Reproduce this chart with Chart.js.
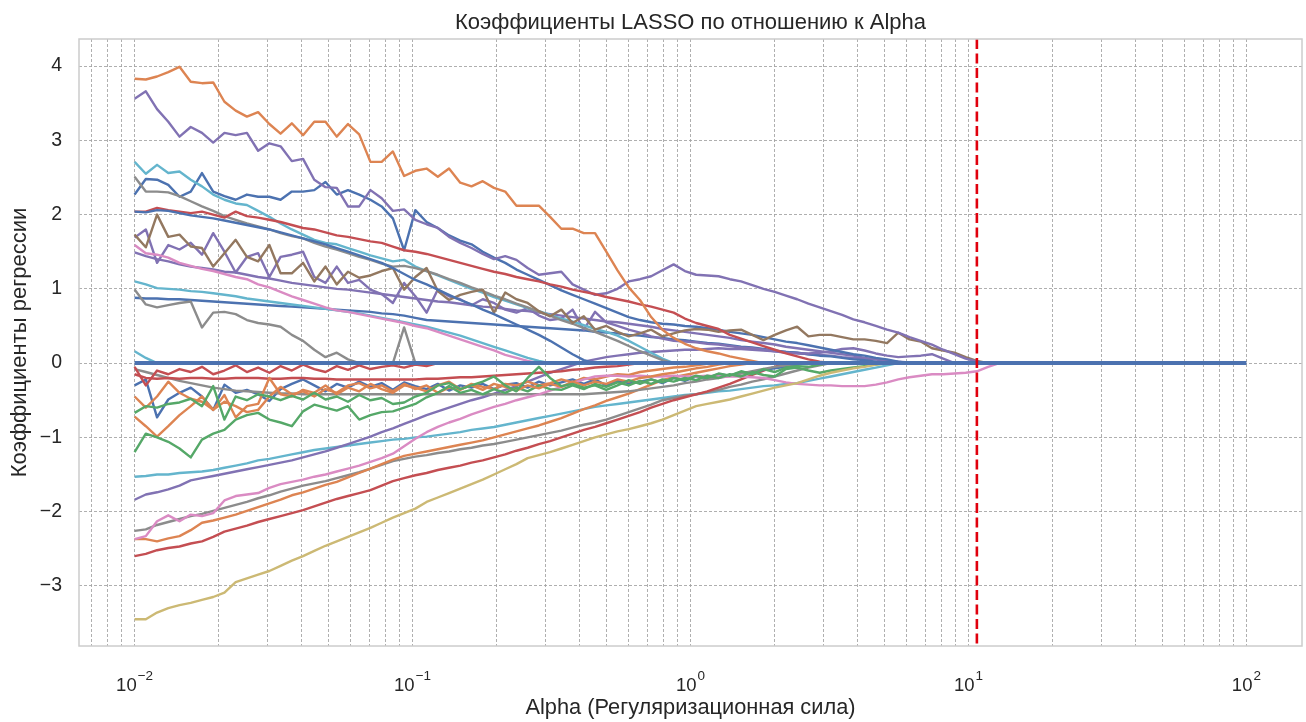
<!DOCTYPE html>
<html>
<head>
<meta charset="utf-8">
<script src="https://cdn.jsdelivr.net/npm/chart.js@4.4.1/dist/chart.umd.min.js"></script>
<style>
  html, body { margin: 0; padding: 0; background: #ffffff; }
  #wrap { width: 1306px; height: 722px; }
</style>
</head>
<body>
<div id="wrap"><canvas id="c" width="1306" height="722"></canvas></div>
<script>
// ---- alpha grid (x values) ----
const alphas = [0.01,0.010975,0.012045,0.013219,0.014508,0.015923,0.017475,0.019179,0.021049,0.023101,
0.025354,0.027826,0.030539,0.033516,0.036784,0.04037,0.044306,0.048626,0.053367,0.05857,
0.064281,0.070548,0.077426,0.084975,0.09326,0.10235,0.11233,0.12328,0.1353,0.14849,
0.16297,0.17886,0.1963,0.21544,0.23645,0.2595,0.2848,0.31257,0.34305,0.37649,
0.4132,0.45349,0.4977,0.54623,0.59948,0.65793,0.72208,0.79248,0.86975,0.95455,
1.0476,1.1498,1.2619,1.3849,1.5199,1.6681,1.8307,2.0092,2.2051,2.4201,
2.6561,2.9151,3.1993,3.5112,3.8535,4.2292,4.6416,5.0941,5.5908,6.1359,
6.7342,7.3907,8.1113,8.9022,9.7701,10.723,11.768,12.915];

// coefficients that stay at zero over the whole alpha range
const zeroPathAlphas = [0.01, 100];
const zeroPathValues = [0, 0];

const bestAlpha = 10.723;

// ---- coefficient paths (one value per alpha, until the coefficient reaches 0) ----
const coefOrange1 = [3.83,3.82,3.86,3.92,3.99,3.79,3.77,3.78,3.52,3.40,3.32,3.38,3.22,3.09,3.23,3.07,3.25,3.25,3.05,3.22,
3.08,2.71,2.71,2.85,2.52,2.59,2.62,2.51,2.62,2.43,2.38,2.45,2.36,2.31,2.12,2.12,2.12,1.97,1.81,1.81,
1.75,1.75,1.50,1.25,1.02,0.85,0.62,0.45,0.34,0.26,0.20,0.16,0.13,0.09,0.06,0.03,0];
const coefPurple1 = [3.56,3.66,3.42,3.25,3.05,3.18,3.10,2.97,3.10,3.07,3.10,2.86,2.96,2.92,2.72,2.75,2.47,2.37,2.36,2.11,
2.11,2.33,2.22,2.05,2.07,1.93,1.87,1.82,1.70,1.62,1.55,1.47,1.40,1.44,1.39,1.28,1.19,1.21,1.23,1.06,
0.99,0.92,0.94,1.00,1.10,1.13,1.17,1.25,1.33,1.24,1.19,1.18,1.17,1.13,1.10,1.05,1.00,0.96,0.91,0.86,
0.80,0.75,0.70,0.65,0.59,0.55,0.50,0.45,0.41,0.35,0.30,0.25,0.18,0.12,0.06,0.02,0];
const coefCyan1 = [2.71,2.55,2.67,2.56,2.58,2.47,2.38,2.27,2.20,2.15,2.13,2.05,1.97,1.88,1.80,1.73,1.66,1.62,1.60,1.55,
1.50,1.45,1.41,1.37,1.39,1.30,1.24,1.18,1.12,1.06,1.00,0.95,0.89,0.84,0.79,0.74,0.70,0.65,0.60,0.56,
0.51,0.46,0.42,0.37,0.30,0.22,0.14,0.06,0];
const coefBlue1 = [2.27,2.48,2.47,2.40,2.24,2.31,2.56,2.31,2.25,2.20,2.27,2.24,2.24,2.20,2.31,2.31,2.33,2.44,2.27,2.33,
2.27,2.20,2.11,1.95,1.52,2.06,1.90,1.82,1.72,1.65,1.60,1.50,1.42,1.35,1.26,1.19,1.12,1.05,0.98,0.92,
0.86,0.80,0.74,0.68,0.62,0.58,0.55,0.53,0.52,0.50,0.49,0.47,0.45,0.42,0.40,0.38,0.35,0.32,0.29,0.27,
0.24,0.21,0.18,0.15,0.12,0.10,0.07,0.05,0.02,0];
const coefGray1 = [2.51,2.31,2.31,2.30,2.25,2.18,2.11,2.05,1.98,1.93,1.88,1.84,1.80,1.75,1.71,1.68,1.62,1.57,1.53,1.48,
1.43,1.39,1.34,1.30,1.31,1.28,1.24,1.19,1.13,1.08,1.02,0.97,0.91,0.86,0.80,0.75,0.69,0.64,0.58,0.53,
0.47,0.42,0.36,0.30,0.23,0.16,0.10,0.04,0];
const coefRed1 = [2.04,2.04,2.09,2.06,2.04,2.02,2.04,2.00,1.96,2.04,1.98,1.96,1.93,1.90,1.86,1.82,1.80,1.76,1.72,1.70,
1.67,1.64,1.62,1.57,1.52,1.50,1.47,1.43,1.39,1.35,1.31,1.27,1.23,1.20,1.16,1.13,1.10,1.06,1.03,0.99,
0.96,0.93,0.89,0.86,0.83,0.79,0.76,0.72,0.68,0.60,0.54,0.50,0.46,0.38,0.33,0.28,0.23,0.18,0.13,0.09,
0.05,0.02,0];
const coefBlue2 = [2.04,2.03,2.06,2.05,2.02,1.99,1.97,1.95,1.92,1.89,1.86,1.83,1.80,1.76,1.72,1.68,1.64,1.60,1.55,1.50,
1.45,1.40,1.35,1.28,1.20,1.12,1.06,0.99,0.92,0.85,0.79,0.72,0.66,0.59,0.52,0.45,0.38,0.30,0.21,0.12,
0.04,0];
const coefBrown1 = [1.73,1.56,2.00,1.70,1.73,1.57,1.55,1.30,1.48,1.66,1.43,1.37,1.59,1.21,1.21,1.35,1.10,1.30,1.06,1.23,
1.15,1.18,1.24,1.28,0.99,1.16,1.28,0.97,0.85,0.92,0.96,0.99,0.68,0.95,0.86,0.81,0.70,0.63,0.72,0.54,
0.63,0.45,0.50,0.42,0.36,0.40,0.45,0.36,0.40,0.44,0.46,0.45,0.42,0.44,0.45,0.38,0.31,0.38,0.44,0.49,
0.36,0.38,0.38,0.35,0.32,0.32,0.30,0.27,0.41,0.32,0.29,0.20,0.17,0.14,0.08,0.03,0];
const coefPurple2 = [1.69,1.80,1.35,1.59,1.53,1.62,1.46,1.75,1.50,1.22,1.43,1.48,1.16,1.43,1.46,1.50,1.16,1.08,1.30,1.08,
1.12,0.99,0.93,0.81,1.08,0.90,0.68,0.99,0.90,0.86,0.78,0.86,0.81,0.72,0.68,0.74,0.64,0.58,0.60,0.72,
0.45,0.69,0.55,0.50,0.45,0.41,0.36,0.33,0.30,0.29,0.28,0.26,0.25,0.23,0.21,0.20,0.18,0.16,0.14,0.13,
0.13,0.14,0.16,0.19,0.20,0.17,0.13,0.10,0.08,0.09,0.10,0.12,0.06,0];
const coefPink1 = [1.59,1.48,1.46,1.42,1.35,1.31,1.27,1.24,1.20,1.16,1.13,1.06,1.02,0.96,0.90,0.85,0.80,0.75,0.71,0.69,
0.66,0.63,0.60,0.57,0.54,0.50,0.47,0.42,0.37,0.32,0.27,0.22,0.17,0.11,0.07,0.03,0];
const coefPurple3 = [1.49,1.44,1.40,1.37,1.33,1.30,1.28,1.26,1.23,1.22,1.19,1.16,1.14,1.11,1.08,1.06,1.04,1.02,1.00,0.99,
0.97,0.95,0.93,0.91,0.89,0.87,0.85,0.83,0.82,0.80,0.78,0.76,0.75,0.73,0.71,0.70,0.68,0.66,0.64,0.62,
0.60,0.58,0.56,0.55,0.53,0.51,0.49,0.46,0.44,0.42,0.40,0.38,0.36,0.34,0.31,0.29,0.27,0.25,0.22,0.20,
0.18,0.16,0.14,0.12,0.10,0.07,0.05,0.02,0];
const coefCyan2 = [1.10,1.06,1.01,1.00,0.99,0.97,0.96,0.94,0.92,0.90,0.87,0.85,0.83,0.81,0.79,0.77,0.75,0.73,0.71,0.69,
0.67,0.64,0.61,0.58,0.55,0.52,0.49,0.45,0.41,0.37,0.32,0.27,0.22,0.17,0.12,0.07,0.03,0];
const coefBlue3 = [0.88,0.87,0.87,0.86,0.86,0.85,0.84,0.83,0.82,0.81,0.80,0.79,0.78,0.77,0.76,0.75,0.74,0.73,0.72,0.71,
0.70,0.69,0.67,0.66,0.64,0.61,0.58,0.57,0.56,0.55,0.54,0.53,0.52,0.51,0.50,0.49,0.48,0.47,0.46,0.45,
0.44,0.42,0.41,0.40,0.38,0.37,0.35,0.34,0.32,0.31,0.29,0.27,0.26,0.24,0.22,0.21,0.19,0.17,0.15,0.14,
0.12,0.10,0.09,0.07,0.05,0.04,0.02,0.01,0];
const coefGray2 = [0.99,0.79,0.75,0.78,0.81,0.83,0.48,0.68,0.69,0.66,0.58,0.54,0.52,0.49,0.38,0.30,0.18,0.08,0.14,0.05,
0,0,0,0,0.48,0];
const coefCyan3 = [0.16,0.07,0];
const coefRed2 = [-0.15,-0.20,-0.21,-0.20,-0.21,-0.20,-0.20,-0.21,-0.21,-0.20,-0.20,-0.20,-0.21,-0.21,-0.20,-0.20,-0.21,-0.21,-0.22,-0.22,
-0.22,-0.22,-0.22,-0.22,-0.22,-0.22,-0.21,-0.21,-0.20,-0.19,-0.19,-0.18,-0.17,-0.16,-0.15,-0.14,-0.13,-0.12,-0.11,-0.09,
-0.08,-0.06,-0.05,-0.04,-0.02,0];
const coefRed3 = [-0.05,-0.30,-0.10,-0.15,-0.08,-0.12,-0.05,-0.15,-0.10,-0.03,-0.12,-0.06,-0.13,-0.04,-0.10,-0.02,-0.08,-0.12,-0.04,-0.09,
-0.03,-0.08,-0.05,-0.03,-0.06,-0.02,-0.04,0];
const coefBlue5 = [-0.30,-0.22,-0.73,-0.49,-0.40,-0.33,-0.45,-0.63,-0.29,-0.40,-0.36,-0.42,-0.51,-0.35,-0.28,-0.22,-0.30,-0.38,-0.28,-0.33,
-0.25,-0.32,-0.27,-0.36,-0.26,-0.31,-0.35,-0.28,-0.37,-0.30,-0.33,-0.28,-0.35,-0.29,-0.27,-0.33,-0.25,-0.30,-0.26,-0.22,
-0.28,-0.22,-0.30,-0.24,-0.27,-0.25,-0.22,-0.27,-0.20,-0.24,-0.18,-0.20,-0.15,-0.17,-0.12,-0.13,-0.09,-0.07,-0.05,-0.02,0];
const coefOrange2 = [-0.45,-0.60,-0.45,-0.25,-0.40,-0.48,-0.52,-0.63,-0.43,-0.73,-0.58,-0.55,-0.20,-0.42,-0.45,-0.36,-0.40,-0.30,-0.42,-0.33,
-0.38,-0.28,-0.35,-0.40,-0.30,-0.33,-0.38,-0.30,-0.25,-0.35,-0.30,-0.36,-0.28,-0.32,-0.37,-0.30,-0.34,-0.28,-0.32,-0.25,
-0.30,-0.25,-0.28,-0.22,-0.25,-0.20,-0.18,-0.15,-0.13,-0.10,-0.07,-0.05,-0.02,0];
const coefOrange3 = [-0.72,-0.85,-0.99,-0.85,-0.70,-0.58,-0.45,-0.63,-0.52,-0.58,-0.66,-0.63,-0.45,-0.32,-0.42,-0.38,-0.45,-0.35,-0.40,-0.30,
-0.27,-0.34,-0.30,-0.38,-0.28,-0.35,-0.30,-0.40,-0.33,-0.36,-0.28,-0.32,-0.35,-0.28,-0.30,-0.25,-0.30,-0.27,-0.22,-0.26,
-0.20,-0.22,-0.18,-0.15,-0.16,-0.12,-0.10,-0.08,-0.06,-0.05,-0.03,-0.01,0];
const coefGray3 = [-0.08,-0.12,-0.16,-0.20,-0.24,-0.27,-0.30,-0.33,-0.35,-0.37,-0.38,-0.39,-0.40,-0.41,-0.41,-0.42,-0.42,-0.42,-0.42,-0.42,
-0.42,-0.42,-0.42,-0.42,-0.42,-0.42,-0.42,-0.42,-0.42,-0.42,-0.42,-0.42,-0.42,-0.42,-0.42,-0.42,-0.42,-0.42,-0.42,-0.42,
-0.42,-0.41,-0.40,-0.39,-0.38,-0.36,-0.34,-0.32,-0.30,-0.27,-0.25,-0.22,-0.20,-0.17,-0.14,-0.11,-0.08,-0.05,-0.03,-0.01,0];
const coefGreen1 = [-0.67,-0.58,-0.60,-0.55,-0.53,-0.48,-0.58,-0.31,-0.76,-0.45,-0.50,-0.42,-0.45,-0.50,-0.44,-0.49,-0.40,-0.49,-0.45,-0.52,
-0.43,-0.50,-0.47,-0.55,-0.53,-0.45,-0.40,-0.30,-0.27,-0.35,-0.30,-0.25,-0.18,-0.30,-0.38,-0.20,-0.05,-0.20,-0.31,-0.28,
-0.33,-0.30,-0.36,-0.30,-0.23,-0.28,-0.22,-0.26,-0.20,-0.23,-0.17,-0.20,-0.14,-0.17,-0.11,-0.15,-0.08,-0.12,-0.06,-0.04,
-0.05,-0.02,0];
const coefGreen2 = [-1.20,-0.95,-1.00,-1.06,-1.15,-1.27,-1.03,-0.95,-0.90,-0.76,-0.70,-0.67,-0.76,-0.80,-0.85,-0.65,-0.56,-0.60,-0.64,-0.58,
-0.76,-0.70,-0.66,-0.65,-0.60,-0.55,-0.46,-0.40,-0.31,-0.40,-0.36,-0.42,-0.35,-0.40,-0.33,-0.38,-0.30,-0.35,-0.36,-0.30,
-0.35,-0.28,-0.32,-0.26,-0.30,-0.24,-0.28,-0.22,-0.25,-0.20,-0.23,-0.17,-0.20,-0.15,-0.18,-0.12,-0.16,-0.18,-0.08,-0.06,
-0.10,-0.13,-0.10,-0.08,-0.06,-0.04,-0.02,0];
const coefCyan4 = [-1.53,-1.52,-1.50,-1.50,-1.48,-1.47,-1.46,-1.44,-1.41,-1.38,-1.35,-1.31,-1.29,-1.26,-1.23,-1.20,-1.17,-1.15,-1.13,-1.11,
-1.09,-1.07,-1.05,-1.03,-1.02,-1.00,-0.99,-0.97,-0.95,-0.93,-0.90,-0.88,-0.86,-0.83,-0.80,-0.77,-0.74,-0.71,-0.68,-0.65,
-0.62,-0.59,-0.57,-0.55,-0.53,-0.51,-0.49,-0.47,-0.45,-0.43,-0.42,-0.40,-0.38,-0.37,-0.35,-0.33,-0.31,-0.30,-0.28,-0.27,
-0.24,-0.21,-0.18,-0.15,-0.12,-0.09,-0.06,-0.03,0];
const coefPurple4 = [-1.84,-1.77,-1.74,-1.70,-1.65,-1.58,-1.55,-1.52,-1.49,-1.46,-1.43,-1.40,-1.37,-1.34,-1.31,-1.27,-1.23,-1.19,-1.14,-1.09,
-1.04,-0.99,-0.93,-0.88,-0.82,-0.76,-0.70,-0.65,-0.60,-0.55,-0.50,-0.46,-0.41,-0.36,-0.31,-0.25,-0.19,-0.13,-0.08,-0.03,
0.02,0.05,0.08,0.10,0.12,0.14,0.15,0.16,0.17,0.18,0.18,0.19,0.20,0.19,0.19,0.18,0.17,0.16,0.15,0.14,
0.12,0.11,0.10,0.08,0.07,0.06,0.05,0.03,0.02,0.01,0];
const coefGray4 = [-2.26,-2.24,-2.18,-2.14,-2.10,-2.06,-2.03,-1.99,-1.95,-1.91,-1.87,-1.82,-1.78,-1.73,-1.69,-1.65,-1.62,-1.59,-1.55,-1.51,
-1.47,-1.42,-1.37,-1.32,-1.29,-1.26,-1.24,-1.21,-1.19,-1.16,-1.14,-1.11,-1.09,-1.06,-1.03,-1.00,-0.97,-0.94,-0.91,-0.87,
-0.83,-0.80,-0.76,-0.71,-0.66,-0.61,-0.56,-0.50,-0.47,-0.44,-0.42,-0.39,-0.36,-0.32,-0.29,-0.25,-0.22,-0.18,-0.14,-0.10,
-0.06,-0.03,0];
const coefOrange4 = [-2.37,-2.37,-2.40,-2.36,-2.33,-2.25,-2.15,-2.12,-2.08,-2.04,-1.99,-1.94,-1.89,-1.84,-1.78,-1.74,-1.69,-1.64,-1.60,-1.54,
-1.48,-1.42,-1.36,-1.30,-1.25,-1.22,-1.19,-1.16,-1.13,-1.10,-1.07,-1.04,-1.00,-0.96,-0.92,-0.88,-0.84,-0.79,-0.74,-0.68,
-0.62,-0.57,-0.51,-0.46,-0.41,-0.35,-0.29,-0.23,-0.19,-0.16,-0.13,-0.10,-0.07,-0.04,-0.02,0];
const coefPink2 = [-2.37,-2.33,-2.13,-2.05,-2.13,-2.04,-2.06,-2.02,-1.85,-1.79,-1.77,-1.75,-1.68,-1.63,-1.60,-1.57,-1.53,-1.50,-1.46,-1.42,
-1.38,-1.33,-1.28,-1.22,-1.12,-1.02,-0.93,-0.86,-0.80,-0.75,-0.69,-0.64,-0.59,-0.55,-0.50,-0.46,-0.42,-0.37,-0.32,-0.27,
-0.22,-0.18,-0.17,-0.17,-0.18,-0.17,-0.18,-0.18,-0.17,-0.18,-0.18,-0.17,-0.18,-0.18,-0.18,-0.19,-0.20,-0.23,-0.26,-0.28,
-0.29,-0.30,-0.30,-0.31,-0.31,-0.31,-0.29,-0.26,-0.22,-0.19,-0.17,-0.15,-0.15,-0.14,-0.13,-0.11,-0.05,0];
const coefRed4 = [-2.60,-2.57,-2.52,-2.49,-2.47,-2.43,-2.40,-2.34,-2.27,-2.23,-2.19,-2.14,-2.10,-2.06,-2.02,-1.98,-1.93,-1.88,-1.83,-1.79,
-1.75,-1.71,-1.65,-1.59,-1.55,-1.51,-1.48,-1.44,-1.41,-1.38,-1.34,-1.31,-1.27,-1.23,-1.18,-1.14,-1.09,-1.05,-1.00,-0.95,
-0.90,-0.86,-0.81,-0.76,-0.71,-0.66,-0.60,-0.55,-0.50,-0.46,-0.42,-0.38,-0.33,-0.28,-0.22,-0.16,-0.10,-0.05,0];
const coefOlive = [-3.45,-3.45,-3.36,-3.30,-3.26,-3.23,-3.19,-3.15,-3.09,-2.95,-2.90,-2.85,-2.80,-2.73,-2.66,-2.60,-2.53,-2.46,-2.40,-2.34,
-2.28,-2.22,-2.15,-2.08,-2.02,-1.96,-1.87,-1.81,-1.75,-1.69,-1.63,-1.57,-1.50,-1.43,-1.36,-1.28,-1.24,-1.20,-1.15,-1.10,
-1.05,-1.00,-0.96,-0.92,-0.89,-0.85,-0.81,-0.76,-0.70,-0.64,-0.58,-0.55,-0.52,-0.49,-0.45,-0.41,-0.37,-0.33,-0.30,-0.27,
-0.22,-0.17,-0.13,-0.10,-0.07,-0.05,-0.02,0];

// ---- ticks ----
const xMajorTicks = [0.01, 0.1, 1, 10, 100];
const xTickBase = '10';
const xTickExponents = ['\u22122', '\u22121', '0', '1', '2'];
const xMinorTicks = [0.007,0.008,0.009,0.02,0.03,0.04,0.05,0.06,0.07,0.08,0.09,0.2,0.3,0.4,0.5,0.6,0.7,0.8,0.9,
2,3,4,5,6,7,8,9,20,30,40,50,60,70,80,90];
const yTickValues = [-3,-2,-1,0,1,2,3,4];

// ---- palette (seaborn deep) ----
const C = {blue:'#4C72B0', orange:'#DD8452', green:'#55A868', red:'#C44E52', purple:'#8172B3',
           brown:'#937860', pink:'#DA8BC3', gray:'#8C8C8C', olive:'#CCB974', cyan:'#64B5CD'};

const seriesTable = [
  ['c1', C.blue, coefBlue2], ['c2', C.orange, coefOrange1], ['c3', C.green, coefGreen1], ['c4', C.red, coefRed1],
  ['c5', C.purple, coefPurple1], ['c6', C.brown, coefBrown1], ['c7', C.pink, coefPink1], ['c8', C.gray, coefGray1],
  ['c9', C.olive, coefOlive], ['c10', C.cyan, coefCyan1],
  ['c11', C.blue, coefBlue1], ['c12', C.orange, coefOrange2], ['c13', C.green, coefGreen2], ['c14', C.red, coefRed2],
  ['c15', C.purple, coefPurple2], ['c16', C.pink, coefPink2], ['c17', C.gray, coefGray2], ['c18', C.cyan, coefCyan2],
  ['c19', C.blue, coefBlue3], ['c20', C.orange, coefOrange3], ['c21', C.red, coefRed3], ['c22', C.purple, coefPurple3],
  ['c23', C.gray, coefGray3], ['c24', C.cyan, coefCyan3],
  ['c25', C.blue, coefBlue5], ['c26', C.orange, coefOrange4], ['c27', C.red, coefRed4], ['c28', C.purple, coefPurple4],
  ['c29', C.gray, coefGray4], ['c30', C.cyan, coefCyan4]
];

const datasets = seriesTable.map(([label, color, vals]) => ({
  label, borderColor: color, backgroundColor: color, borderWidth: 2.4,
  pointRadius: 0, tension: 0, fill: false, order: 1,
  borderJoinStyle: 'round',
  data: vals.map((v, i) => ({x: alphas[i], y: v}))
}));
datasets.push({
  label: 'zero', borderColor: C.blue, backgroundColor: C.blue, borderWidth: 4,
  pointRadius: 0, tension: 0, fill: false, order: 0,
  data: zeroPathValues.map((v, i) => ({x: zeroPathAlphas[i], y: v}))
});

const FONT = "'Liberation Sans', Arial, sans-serif";
const TXT = '#262626';

const overlayPlugin = {
  id: 'overlay',
  afterDatasetsDraw(chart) {
    const {ctx, chartArea: a, scales} = chart;
    const x = scales.x.getPixelForValue(bestAlpha);
    ctx.save();
    ctx.strokeStyle = '#e0000d';
    ctx.lineWidth = 2.6;
    ctx.setLineDash([10, 4.5]);
    ctx.beginPath();
    ctx.moveTo(x, a.top);
    ctx.lineTo(x, a.bottom);
    ctx.stroke();
    ctx.restore();
    ctx.save();
    ctx.strokeStyle = '#cccccc';
    ctx.lineWidth = 1.5;
    ctx.strokeRect(a.left, a.top, a.right - a.left, a.bottom - a.top);
    ctx.restore();
  },
  afterDraw(chart) {
    // x tick labels written as 10 with a raised exponent, placed on the x scale's major ticks
    const {ctx, chartArea: a, scales} = chart;
    const sx = scales.x;
    const baseFont = '18.5px ' + FONT;
    const supFont = '13.5px ' + FONT;
    ctx.save();
    ctx.fillStyle = TXT;
    ctx.textAlign = 'left';
    ctx.textBaseline = 'alphabetic';
    xMajorTicks.forEach((t, k) => {
      const px = sx.getPixelForValue(t);
      ctx.font = baseFont;
      const w1 = ctx.measureText(xTickBase).width;
      ctx.font = supFont;
      const w2 = ctx.measureText(xTickExponents[k]).width;
      const x0 = px - (w1 + 1 + w2) / 2;
      ctx.font = baseFont;
      ctx.fillText(xTickBase, x0, a.bottom + 45);
      ctx.font = supFont;
      ctx.fillText(xTickExponents[k], x0 + w1 + 1, a.bottom + 34);
    });
    ctx.restore();
  }
};

new Chart(document.getElementById('c'), {
  type: 'line',
  data: { datasets },
  plugins: [overlayPlugin],
  options: {
    responsive: false,
    animation: false,
    devicePixelRatio: 1,
    events: [],
    layout: { padding: { left: 0, right: 4, top: 0, bottom: 0 } },
    plugins: {
      legend: { display: false },
      tooltip: { enabled: false },
      title: {
        display: true,
        fullSize: false,
        text: 'Коэффициенты LASSO по отношению к Alpha',
        color: TXT,
        font: { family: FONT, size: 22, weight: 'normal', lineHeight: 1.2 },
        padding: { top: 9.5, bottom: 3.1 }
      }
    },
    scales: {
      x: {
        type: 'logarithmic',
        min: 0.0063096,
        max: 158.489,
        afterBuildTicks: (scale) => {
          scale.ticks = xMinorTicks.concat(xMajorTicks).sort((a, b) => a - b).map(v => ({value: v}));
        },
        afterFit: (scale) => { scale.height = 76; },
        ticks: {
          autoSkip: false, maxRotation: 0, minRotation: 0, padding: 27,
          color: TXT, font: { family: FONT, size: 18 },
          callback: () => ''
        },
        grid: { color: '#a0a0a0', lineWidth: 0.85, drawTicks: false },
        border: { display: false, dash: [3, 2] },
        title: {
          display: true, text: 'Alpha (Регуляризационная сила)', color: TXT,
          font: { family: FONT, size: 21.8, lineHeight: 1.2 }, padding: { top: 0, bottom: 0.5 }
        }
      },
      y: {
        type: 'linear',
        min: -3.81,
        max: 4.365,
        afterBuildTicks: (scale) => { scale.ticks = yTickValues.map(v => ({value: v})); },
        afterFit: (scale) => { scale.width = 79; },
        ticks: {
          padding: 17, color: TXT, font: { family: FONT, size: 19.5 },
          callback: (v) => v < 0 ? '\u2212' + Math.abs(v) : String(v)
        },
        grid: { color: '#a0a0a0', lineWidth: 0.85, drawTicks: false },
        border: { display: false, dash: [3, 2] },
        title: {
          display: true, text: 'Коэффициенты регрессии', color: TXT,
          font: { family: FONT, size: 22, lineHeight: 1.2 }, padding: { top: 6.8, bottom: 0 }
        }
      }
    }
  }
});
</script>
</body>
</html>
